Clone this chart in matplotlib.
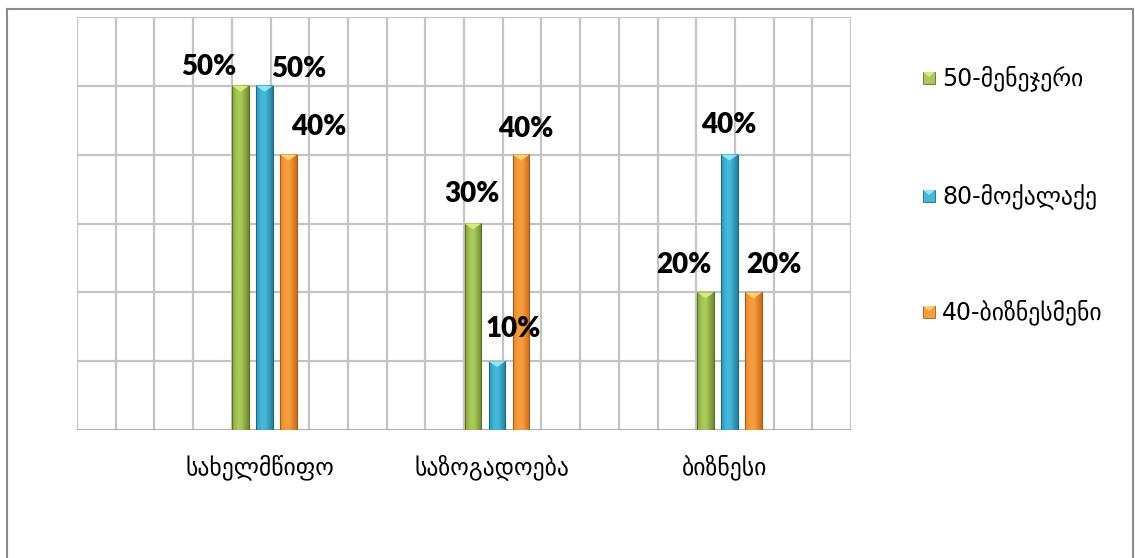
import numpy as np
import matplotlib
matplotlib.use("Agg")
import matplotlib.pyplot as plt
from matplotlib.colors import LinearSegmentedColormap
from matplotlib.patches import Rectangle, Polygon
from matplotlib.lines import Line2D

# ---- data ----
categories = ["სახელმწიფო", "საზოგადოება", "ბიზნესი"]
series_names = ["50-მენეჯერი", "80-მოქალაქე", "40-ბიზნესმენი"]
manager_pct = [50, 30, 20]
citizen_pct = [50, 10, 40]
business_pct = [40, 40, 20]
series_values = [manager_pct, citizen_pct, business_pct]

# ---- styling ----
# (left, centre highlight, right) shades of each column, plus cap colour and outline
shades = [
    ("#8aa83f", "#a9c95a", "#6f8a2f", "#d3ec7a", "#5b7026"),
    ("#2f9ab8", "#45b8da", "#24809b", "#8fe6f8", "#1d6a80"),
    ("#e98a2c", "#f89d3e", "#c96d1c", "#ffd07a", "#a85a16"),
]
# data-label offsets in pixels (dx from column centre, dy above column top)
label_dx = [[-32, -1, -22], [34, 16, -1], [30, 5, 20]]
label_dy = [[19, 29, 27], [17, 32, 30], [28, 26, 27]]

W, H, DPI = 1135, 558, 100
fig = plt.figure(figsize=(W / DPI, H / DPI), dpi=DPI)
fig.patch.set_facecolor("white")

# plot area in pixel coordinates
px_l, px_r, px_t, px_b = 77, 851, 17, 430
ax = fig.add_axes([px_l / W, 1 - px_b / H, (px_r - px_l) / W, (px_b - px_t) / H])
ax.set_axis_off()

xlim = (-0.8065, 2.5226)
ylim = (0, 60)

# wall grid
for xv in np.linspace(xlim[0], xlim[1], 21):
    ax.axvline(xv, color="#c4c4c4", lw=1.6, zorder=1)
for yv in range(10, 61, 10):
    ax.axhline(yv, color="#c4c4c4", lw=1.6, zorder=1)
ax.axhline(0, color="#a6a6a6", lw=2.0, zorder=1)

bar_w = 0.073
step = 0.1032
cap_h = 0.85

x = np.arange(len(categories))
for si, vals in enumerate(series_values):
    left_c, mid_c, right_c, cap_c, edge_c = shades[si]
    cmap = LinearSegmentedColormap.from_list(
        f"s{si}", [(0, left_c), (0.35, mid_c), (0.55, mid_c), (1, right_c)])
    grad = np.linspace(0, 1, 64).reshape(1, -1)
    for ci, v in enumerate(vals):
        xc = x[ci] + (si - 1) * step
        x0, x1 = xc - bar_w / 2, xc + bar_w / 2
        ax.imshow(grad, extent=[x0, x1, 0, v], aspect="auto", cmap=cmap,
                  interpolation="bilinear", zorder=3)
        ax.add_patch(Rectangle((x0, 0), bar_w, v, fill=False,
                               edgecolor=edge_c, lw=0.8, zorder=4))
        ax.add_patch(Polygon([(x0, v), (x1, v), (xc, v - cap_h)], closed=True,
                             facecolor=cap_c, edgecolor="none", zorder=5))
        ax.annotate(f"{v}%", xy=(xc, v),
                    xytext=(label_dx[si][ci], label_dy[si][ci]),
                    textcoords="offset pixels", ha="center", va="center",
                    fontsize=20, fontweight="heavy", family="Lato",
                    color="black", zorder=6)

ax.set_xlim(*xlim)
ax.set_ylim(*ylim)

# category labels under the floor
for ci, name in enumerate(categories):
    ax.annotate(name, xy=(x[ci], 0), xytext=(-5, -37), textcoords="offset pixels",
                ha="center", va="center", fontsize=17, family="DejaVu Sans",
                color="black", annotation_clip=False)

# legend on the right
leg_y = [78, 196, 312]
for si, name in enumerate(series_names):
    left_c, mid_c, right_c, cap_c, edge_c = shades[si]
    sx, sy, ss = 923, leg_y[si] - 6, 12
    fig.patches.append(Rectangle((sx / W, 1 - (sy + ss) / H), ss / W, ss / H,
                                 transform=fig.transFigure, facecolor=mid_c,
                                 edgecolor=edge_c, lw=0.6))
    fig.patches.append(Polygon([(sx / W, 1 - sy / H), ((sx + ss) / W, 1 - sy / H),
                                ((sx + ss / 2) / W, 1 - (sy + 5) / H)],
                               closed=True, transform=fig.transFigure,
                               facecolor=cap_c, edgecolor="none"))
    fig.text(942 / W, 1 - leg_y[si] / H, name, ha="left", va="center",
             fontsize=17, family="DejaVu Sans", color="black")

# chart frame
frame_kw = dict(transform=fig.transFigure, color="#8c8c8c", lw=1.5)
fig.lines.append(Line2D([7 / W, 1133 / W], [1 - 9 / H, 1 - 9 / H], **frame_kw))
fig.lines.append(Line2D([7 / W, 7 / W], [1 - 9 / H, 0], **frame_kw))
fig.lines.append(Line2D([1133 / W, 1133 / W], [1 - 9 / H, 0], **frame_kw))

fig.savefig("out.png", dpi=DPI, facecolor="white")
